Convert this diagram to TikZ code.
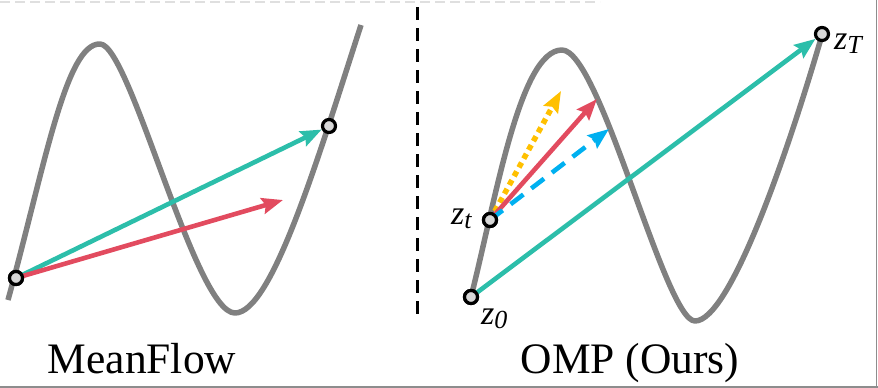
\documentclass[tikz,border=0pt]{standalone}
\usepackage{fontspec}
\setmainfont{Liberation Serif}
\usetikzlibrary{arrows.meta}
\definecolor{cteal}{RGB}{44,190,170}
\definecolor{cred}{RGB}{226,75,95}
\definecolor{cyel}{RGB}{255,192,0}
\definecolor{cblue}{RGB}{0,176,240}
\definecolor{cgray}{RGB}{128,128,128}
\definecolor{cfill}{RGB}{215,215,215}
\tikzset{
  curve/.style={cgray,line width=5.5pt,line join=round},
  vec/.style={line width=4.6pt,-{Stealth[length=21pt,width=16pt,inset=3pt]}},
  pt/.style={circle,draw=black,fill=cfill,line width=3.2pt,minimum size=13pt,inner sep=0pt},
  lab/.style={font=\fontsize{34}{38}\selectfont\itshape,inner sep=0pt,anchor=base west},
  ttl/.style={font=\fontsize{43.5}{48}\selectfont,inner sep=0pt,anchor=base}
}
\begin{document}
\begin{tikzpicture}[x=1pt,y=-1pt]
\useasboundingbox (0,0) rectangle (878,388);
% frame
\draw[gray!25,line width=2pt,dash pattern=on 10pt off 5pt] (0,1.5) -- (600,1.5);
\draw[cgray!90,line width=1.2pt] (0,387) -- (878,387);
\draw[cgray!90,line width=1.2pt] (876.5,0) -- (876.5,388);
% separator
\draw[black,line width=3pt,dash pattern=on 13pt off 8pt] (417,7) -- (417,320);
% left curve
\draw[curve] (8,300) .. controls (45,165) and (66,43) .. (100,44)
  .. controls (130,44) and (195,313) .. (235,313)
  .. controls (272,313) and (318,158) .. (361,25);
\node[pt] (a) at (16,278) {};
\node[pt] (b) at (329,126) {};
\coordinate (ared) at (283,200);
\draw[vec,cteal] (a.center) -- (b);
\draw[vec,cred] (a.center) -- (ared);
\node[pt] at (a) {};
% right curve
\draw[curve] (471,297) .. controls (496,198) and (520,50) .. (562,50)
  .. controls (600,50) and (665,321) .. (695,321)
  .. controls (730,321) and (788,152) .. (822,35);
\coordinate (ty) at (561,91);
\coordinate (tr) at (597,99);
\coordinate (tb) at (609,129);
\node[pt] (z0) at (471,297) {};
\node[pt] (zt) at (490,220) {};
\node[pt] (zT) at (822,34) {};
\draw[vec,cyel,line width=5.5pt,dash pattern=on 5.5pt off 4.5pt] (zt.center) -- (ty);
\draw[vec,cred] (zt.center) -- (tr);
\draw[vec,cblue,dash pattern=on 16pt off 10pt] (zt.center) -- (tb);
\draw[vec,cteal] (z0.center) -- (zT);
\node[pt] at (z0) {};
\node[pt] at (zt) {};
% labels
\node[lab] (lt) at (451,224) {z\raisebox{-0.3ex}{\fontsize{26}{28}\selectfont t}};
\node[lab] (l0) at (481,324) {z\raisebox{-0.3ex}{\fontsize{26}{28}\selectfont 0}};
\node[lab] (lT) at (834,49) {z\raisebox{-0.3ex}{\fontsize{26}{28}\selectfont T}};
% titles
\node[ttl] (t1) at (142,373) {MeanFlow};
\node[ttl] (t2) at (630,373) {OMP (Ours)};
\end{tikzpicture}
\end{document}
